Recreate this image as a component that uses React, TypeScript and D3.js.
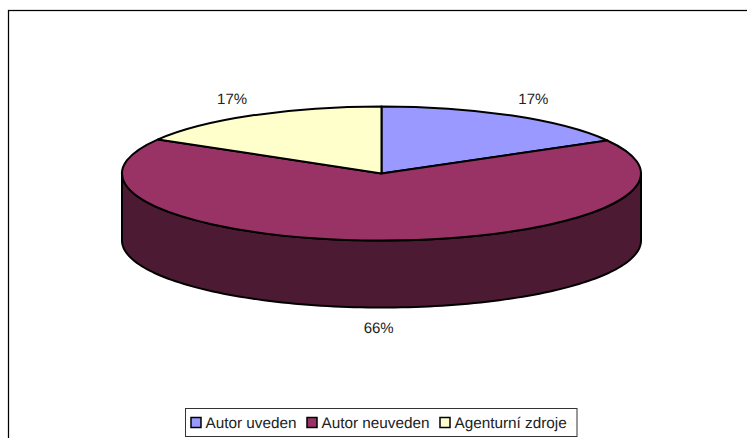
import React from 'react';
import * as d3 from 'd3';

const categories = ['Autor uveden', 'Autor neuveden', 'Agenturní zdroje'];
const values = [16.8, 66.7, 16.5];
const labels = ['17%', '66%', '17%'];
const topColors = ['#9999ff', '#993366', '#ffffcc'];
const sideColors = ['#4d4d80', '#4d1a33', '#808066'];

const width = 747;
const height = 438;
const cx = 381.5;
const cy = 173.5;
const rx = 259.5;
const ry = 67;
const depth = 67;

const pie = d3.pie<number>().sort(null);
const slices = pie(values);

// d3.arc works on a circle, the tilt comes from the scale() on the group
const arc = d3.arc<d3.PieArcDatum<number>>().innerRadius(0).outerRadius(1);

const rimLine = d3.line<number>()
  .x(a => cx + rx * Math.sin(a))
  .y(a => cy - ry * Math.cos(a));

const rimLineLow = d3.line<number>()
  .x(a => cx + rx * Math.sin(a))
  .y(a => cy + depth - ry * Math.cos(a));

// front wall of a slice, only the part between 90 and 270 degrees is visible
function wallPath(start: number, end: number) {
  const from = Math.max(start, Math.PI / 2);
  const to = Math.min(end, (3 * Math.PI) / 2);
  if (to <= from) return null;
  const angles = d3.range(0, 121).map(i => from + ((to - from) * i) / 120);
  const top = rimLine(angles)!;
  const bottom = rimLineLow(angles.slice().reverse())!;
  return `${top}L${bottom.slice(1)}Z`;
}

function labelPos(d: d3.PieArcDatum<number>) {
  const mid = (d.startAngle + d.endAngle) / 2;
  const c = Math.cos(mid);
  return {
    x: cx + (rx + 42) * Math.sin(mid),
    y: c > 0 ? cy - (ry + 19) * c : cy + (ry + depth + 20) * -c,
  };
}

const legendX = d3.scaleOrdinal<string, number>()
  .domain(categories)
  .range([190.5, 306.5, 439.5]);

export default function App() {
  return (
    <svg
      width={width}
      height={height}
      viewBox={`0 0 ${width} ${height}`}
      style={{ position: 'absolute', left: 0, top: 0, background: '#fff', fontFamily: '"Liberation Sans", Arial, sans-serif', textRendering: 'geometricPrecision' }}
    >
      {/* outer frame, runs off the picture on the right and at the bottom */}
      <rect x={8.5} y={10.5} width={760} height={450} fill="#fff" stroke="#000" strokeWidth={1.25} />

      {slices.map((d, i) => {
        const w = wallPath(d.startAngle, d.endAngle);
        if (!w) return null;
        return (
          <path key={i} d={w} fill={sideColors[i]} stroke="#000" strokeWidth={2} strokeLinejoin="round" />
        );
      })}

      <g transform={`translate(${cx},${cy}) scale(${rx},${ry})`}>
        {slices.map((d, i) => (
          <path
            key={i}
            d={arc(d)!}
            fill={topColors[i]}
            stroke="#000"
            strokeWidth={2}
            vectorEffect="non-scaling-stroke"
            strokeLinejoin="round"
          />
        ))}
      </g>

      {slices.map((d, i) => {
        const p = labelPos(d);
        return (
          <text key={i} x={p.x} y={p.y} textAnchor="middle" dy="0.35em" fontSize={15} fill="#222">
            {labels[i]}
          </text>
        );
      })}

      <rect x={185.5} y={408.5} width={391.5} height={28} fill="#fff" stroke="#333" strokeWidth={1} />
      {categories.map((c, i) => (
        <g key={c} transform={`translate(${legendX(c)},417)`}>
          <rect x={0.5} y={0.5} width={10} height={10} fill={topColors[i]} stroke="#000" strokeWidth={1.5} />
          <text x={15} y={11} fontSize={15.3} fill="#222">{c}</text>
        </g>
      ))}
    </svg>
  );
}
